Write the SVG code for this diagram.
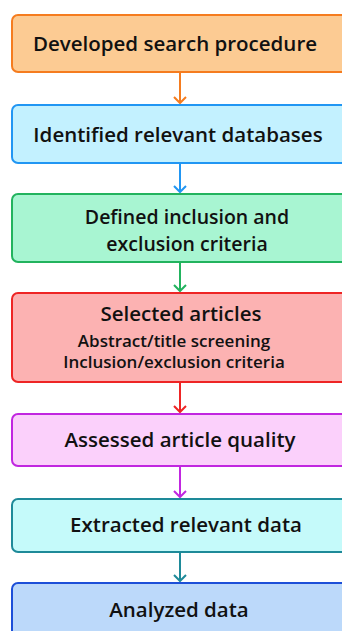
<svg xmlns="http://www.w3.org/2000/svg" width="342" height="631" viewBox="0 0 342 631">
<style>
.box{stroke-width:2}
.t{font-family:"Open Sans","Liberation Sans",sans-serif;font-weight:600;font-size:20.5px;fill:#111;text-anchor:middle}
.m{font-size:19.5px}
.s{font-size:17px}
.c{fill:none;stroke-width:2}
</style>
<rect width="342" height="631" fill="#fff"/>
<g id="connectors" class="c">
<path d="M180,72 V103" stroke="#F57C1F"/>
<path d="M174,97 L180,103 L186,97" stroke="#F57C1F"/>
<path d="M180,163 V192" stroke="#2196F3"/>
<path d="M174,186 L180,192 L186,186" stroke="#2196F3"/>
<path d="M180,262 V291" stroke="#22B35E"/>
<path d="M174,285 L180,291 L186,285" stroke="#22B35E"/>
<path d="M180,382 V412" stroke="#EE2525"/>
<path d="M174,406 L180,412 L186,406" stroke="#EE2525"/>
<path d="M180,466 V497" stroke="#C126E0"/>
<path d="M174,491 L180,497 L186,491" stroke="#C126E0"/>
<path d="M180,552 V581" stroke="#1E8A99"/>
<path d="M174,575 L180,581 L186,575" stroke="#1E8A99"/>
</g>
<g id="n1"><rect class="box" x="12" y="15" width="336" height="57" rx="6" fill="#FCCB93" stroke="#F57C1F"/><text class="t" x="175" y="51">Developed search procedure</text></g>
<g id="n2"><rect class="box" x="12" y="105" width="336" height="58" rx="6" fill="#C3F1FF" stroke="#2196F3"/><text class="t" x="178" y="142">Identified relevant databases</text></g>
<g id="n3"><rect class="box" x="12" y="194" width="336" height="68" rx="6" fill="#A8F5D2" stroke="#22B35E"/><text class="t m" x="187" y="224">Defined inclusion and</text><text class="t m" x="187" y="251">exclusion criteria</text></g>
<g id="n4"><rect class="box" x="12" y="293" width="336" height="89" rx="6" fill="#FCB2B2" stroke="#EE2525"/><text class="t"><tspan x="181" y="321">Selected articles</tspan><tspan class="s" x="174" y="347">Abstract/title screening</tspan><tspan class="s" x="174" y="368">Inclusion/exclusion criteria</tspan></text></g>
<g id="n5"><rect class="box" x="12" y="414" width="336" height="52" rx="6" fill="#FBD0FB" stroke="#C126E0"/><text class="t" x="180" y="447">Assessed article quality</text></g>
<g id="n6"><rect class="box" x="12" y="499" width="336" height="53" rx="6" fill="#C5FAFA" stroke="#1E8A99"/><text class="t" x="186" y="532">Extracted relevant data</text></g>
<g id="n7"><rect class="box" x="12" y="583" width="336" height="60" rx="6" fill="#BCD9FA" stroke="#1D4FD8"/><text class="t" x="179" y="617">Analyzed data</text></g>
</svg>
